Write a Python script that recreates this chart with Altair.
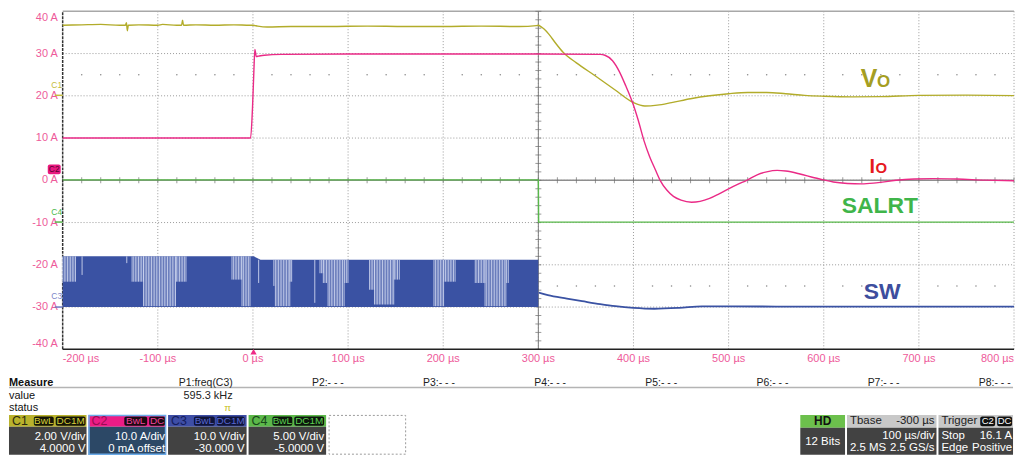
import altair as alt
import pandas as pd
import numpy as np

# ---------------- data (display units: A scale) ----------------
# C1  Vo
vo_t = [-200, -180, -160, -140, -134, -133, -132, -131, -120, -100, -95, -80, -75, -74, -73, -60, -40, -20, -3, 0,
        5, 15, 40, 80, 120, 160, 200, 240, 280, 298, 300, 303, 306, 311, 318, 326, 340, 360, 380, 400,
        412, 425, 440, 460, 480, 500, 520, 540, 560, 580, 600, 630, 660, 700, 750, 800]
vo_v = [36.7, 36.8, 36.9, 36.7, 36.7, 37.3, 35.4, 36.7, 36.8, 36.7, 36.9, 36.7, 36.7, 37.9, 36.7, 36.8, 36.7, 36.8, 36.7, 36.7,
        36.5, 36.3, 36.4, 36.4, 36.5, 36.4, 36.4, 36.5, 36.4, 36.6, 36.7, 36.3, 35.8, 34.6, 32.5, 30.3, 27.8, 24.7, 21.5, 18.4,
        17.6, 17.8, 18.4, 19.3, 20.0, 20.5, 20.8, 20.8, 20.5, 20.1, 19.9, 19.75, 19.8, 20.1, 20.15, 20.05]
# C2  Io
io_t = [-200, -2.5, -0.5, 1, 2, 3.5, 6, 12, 30, 100, 200, 300, 365, 370, 378, 385, 392, 399, 405, 411,
        417, 423, 428, 435, 442, 450, 461, 470, 480, 490, 500, 510, 519, 530, 540, 551, 560, 575, 590, 600,
        610, 625, 640, 655, 676, 695, 715, 740, 770, 800]
io_v = [10, 10, 17, 26, 31, 29.3, 29.4, 29.6, 29.8, 29.9, 29.9, 29.9, 29.8, 29.6, 28.3, 25.8, 22.3, 18.4, 14.2, 9.4,
        5.6, 2.5, 0, -2.3, -3.8, -4.7, -5.2, -5.0, -4.3, -3.2, -2.0, -0.9, 0, 1.3, 2.0, 2.35, 2.2, 1.5, 0.6, 0.1,
        -0.4, -0.75, -0.85, -0.6, 0, 0.3, 0.4, 0.3, 0.05, -0.1]
# C4  SALRT
alrt_t = [-200, 300, 300.3, 800]
alrt_v = [0.1, 0.1, -9.9, -9.9]
# C3  SW : switching band before 300 us, then a settling trace
band_t = [-200, 1, 8, 300]
band_top = [-18.0, -18.0, -18.8, -18.8]
band_bottom = -30.0
sw_t = [300.4, 310, 330, 346, 365, 381, 400, 422, 448, 472, 500, 600, 700, 800]
sw_v = [-26.6, -27.2, -28.0, -28.6, -29.3, -29.8, -30.2, -30.4, -30.2, -29.85, -29.85, -29.9, -29.9, -29.9]
# pulse-skipping clusters seen inside the SW band: start (us), end (us), lowest level (A)
skip_start = [-200, -179.6, -132.6, -127, -115, -80.5, -22, -11.5, 6, 22, 23.6, 39, 65, 70.5, 74, 79, 96.5,
              122.6, 127.8, 148.6, 153.8, 190.3, 200.7, 233.7, 244, 266.7]
skip_end = [-186, -179, -132, -115, -80.5, -70, -11.5, -2.4, 6.5, 23.6, 39, 42, 66, 74, 79, 96.5, 100,
            127.8, 148.6, 153, 154.5, 200.7, 212.8, 244, 266.7, 270]
skip_low = [-24, -22.4, -19.6, -24, -29.8, -24, -23.5, -29.8, -24.3, -25, -29.8, -24, -29, -22, -24.3, -29.8, -24.3,
            -25.9, -29.4, -23.5, -23.5, -29.8, -24, -24.3, -29.8, -24.3]
f_sw_khz = 595.3  # measured P1: freq(C3)

x_ticks = list(range(-200, 801, 100))
y_ticks = list(range(-40, 41, 10))

# ---------------- scales ----------------
FONT = "Liberation Sans"
PINK = "#ee5a9a"
W, H = 957, 340
XMIN, XMAX, YMIN, YMAX = -200, 800, -40, 40
xs = alt.Scale(domain=[XMIN, XMAX], nice=False, zero=False)
ys = alt.Scale(domain=[YMIN, YMAX], nice=False, zero=False)


def X(f="t"):
    return alt.X(f"{f}:Q", scale=xs, axis=None)


def Y(f="v"):
    return alt.Y(f"{f}:Q", scale=ys, axis=None)


# ---------------- graticule (grid, frame, tick labels) ----------------
grid_x = alt.Chart(pd.DataFrame({"t": x_ticks[1:-1], "a": YMIN, "b": YMAX})).mark_rule(
    color="#9a9a9a", strokeWidth=1, strokeDash=[1, 2]).encode(x=X(), y=Y("a"), y2="b:Q")
grid_y = alt.Chart(pd.DataFrame({"v": y_ticks[1:-1], "a": XMIN, "b": XMAX})).mark_rule(
    color="#9a9a9a", strokeWidth=1, strokeDash=[1, 2]).encode(y=Y(), x=X("a"), x2="b:Q")
top_border = alt.Chart(pd.DataFrame({"a": [XMIN], "b": [XMAX], "v": [YMAX]})).mark_rule(
    color="#a8a8a8", strokeWidth=1.5).encode(x=X("a"), x2="b:Q", y=Y())
right_grid = alt.Chart(pd.DataFrame({"t": [XMAX], "a": [YMIN], "b": [YMAX]})).mark_rule(
    color="#9a9a9a", strokeWidth=1, strokeDash=[1, 2]).encode(x=X(), y=Y("a"), y2="b:Q")
left_border = alt.Chart(pd.DataFrame({"t": [XMIN], "a": [YMIN], "b": [YMAX]})).mark_rule(
    color="#333333", strokeWidth=1.5, strokeDash=[3, 1]).encode(x=X(), y=Y("a"), y2="b:Q")
bottom_border = alt.Chart(pd.DataFrame({"a": [XMIN], "b": [XMAX], "v": [YMIN]})).mark_rule(
    color="#222222", strokeWidth=1.5).encode(x=X("a"), x2="b:Q", y=Y())

center_v = alt.Chart(pd.DataFrame({"t": [300], "a": [YMIN], "b": [YMAX]})).mark_rule(
    color="#7c7c7c", strokeWidth=1).encode(x=X(), y=Y("a"), y2="b:Q")
center_h = alt.Chart(pd.DataFrame({"a": [XMIN], "b": [XMAX], "v": [0]})).mark_rule(
    color="#8e8e8e", strokeWidth=1.5).encode(x=X("a"), x2="b:Q", y=Y())

minor_x = pd.DataFrame({"t": np.arange(-200, 801, 20), "v": 0})
minor_y = pd.DataFrame({"t": 300, "v": np.arange(-40, 41, 2)})
tick_x = alt.Chart(minor_x).mark_tick(orient="vertical", size=6, thickness=1, color="#6e6e6e").encode(x=X(), y=Y())
tick_y = alt.Chart(minor_y).mark_tick(orient="horizontal", size=6, thickness=1, color="#6e6e6e").encode(x=X(), y=Y())
dot_t = [t for t in range(-200, 801, 20) if t % 100 != 0]
dots = alt.Chart(pd.DataFrame({"t": dot_t * 2, "v": [25] * len(dot_t) + [-25] * len(dot_t)})).mark_circle(
    size=2.5, color="#8a8a8a", opacity=1).encode(x=X(), y=Y())

# tick labels (first / last flush with the frame edges, like the scope)
xl = pd.DataFrame({"t": x_ticks, "v": YMIN, "s": [f"{v} µs" for v in x_ticks]})
ylab = pd.DataFrame({"t": XMIN, "v": y_ticks, "s": [f"{v} A" for v in y_ticks]})


def tick_text(df, align, baseline, dx=0, dy=0):
    return alt.Chart(df).mark_text(font=FONT, fontSize=11, color=PINK, align=align, baseline=baseline,
                                   dx=dx, dy=dy).encode(x=X(), y=Y(), text="s:N")


x_labels = [
    tick_text(xl.iloc[[0]], "left", "top", dy=4),
    tick_text(xl.iloc[1:-1], "center", "top", dy=4),
    tick_text(xl.iloc[[-1]], "right", "top", dy=4),
]
y_labels = [
    tick_text(ylab.iloc[[0]], "right", "bottom", dx=-5),
    tick_text(ylab.iloc[1:-1], "right", "middle", dx=-5),
    tick_text(ylab.iloc[[-1]], "right", "top", dx=-5, dy=1),
]

# ---------------- traces ----------------
SW_BLUE = "#3a52a3"
band = alt.Chart(pd.DataFrame({"t": band_t, "top": band_top, "bot": band_bottom})).mark_area(
    color=SW_BLUE, interpolate="linear", opacity=1).encode(x=X(), y=Y("top"), y2="bot:Q")
period = 1000.0 / f_sw_khz
rows = []
for s, e, lo in zip(skip_start, skip_end, skip_low):
    for t in np.arange(s, e + 1e-9, period):
        rows.append({"t": t, "top": -18.0 if t < 4 else -18.8, "lo": lo})
stripes = alt.Chart(pd.DataFrame(rows)).mark_rule(color="#cdd4ee", strokeWidth=0.9).encode(
    x=X(), y=Y("top"), y2="lo:Q")
sw_line = alt.Chart(pd.DataFrame({"t": sw_t, "v": sw_v})).mark_line(
    color=SW_BLUE, strokeWidth=1.8, interpolate="monotone").encode(x=X(), y=Y())

alrt_line = alt.Chart(pd.DataFrame({"t": alrt_t, "v": alrt_v})).mark_line(
    color="#58b84a", strokeWidth=1.4).encode(x=X(), y=Y())
vo_line = alt.Chart(pd.DataFrame({"t": vo_t, "v": vo_v})).mark_line(
    color="#b2ac2a", strokeWidth=1.4, interpolate="monotone").encode(x=X(), y=Y())
io_line = alt.Chart(pd.DataFrame({"t": io_t, "v": io_v})).mark_line(
    color="#ea2a86", strokeWidth=1.4, interpolate="monotone").encode(x=X(), y=Y())


def label(text, t, v, color, size, weight="bold"):
    return alt.Chart(pd.DataFrame({"t": [t], "v": [v], "s": [text]})).mark_text(
        font=FONT, fontSize=size, fontWeight=weight, color=color, align="center", baseline="alphabetic").encode(
        x=X(), y=Y(), text="s:N")


labels = [
    label("V", 647.6, 22.0, "#a59e22", 25),
    label("O", 662.8, 22.0, "#a59e22", 17),
    label("I", 651.0, 1.7, "#e6191f", 20),
    label("O", 660.4, 1.7, "#e6191f", 15),
    label("SALRT", 658.9, -7.85, "#3fb54a", 23),
    label("SW", 661.5, -28.2, "#3d4e9e", 23),
]

# ---------------- instrument panel (screen layout in page pixels, mapped through the same scales) ----------------
OX, OY = 62, 10
KX = (XMAX - XMIN) / W
KY = (YMAX - YMIN) / H
RMAX = 1018


def P(df):
    df = pd.DataFrame(df)
    for c in ("x", "x2"):
        if c in df:
            df[c] = XMIN + (df[c] - OX) * KX
    for c in ("y", "y2"):
        if c in df:
            df[c] = YMAX - (df[c] - OY) * KY
    return df


R1, SEP, R2, R3 = 383.5, 388.5, 397.0, 409.5
HT, HB, BB = 416.0, 428.0, 456.0
HM = (HT + HB) / 2
L1, L2 = 438.0, 450.0
RHB = 429.0
RL1, RL2 = 437.0, 449.5
RHM = (HT + RHB) / 2

boxes = P([
    dict(x=8, x2=86, y=HT, y2=HB, c="#b9b22c"), dict(x=8, x2=86, y=HB, y2=BB, c="#424242"),
    dict(x=88, x2=166, y=HT, y2=HB, c="#ec1c86"), dict(x=88, x2=166, y=HB, y2=BB, c="#2c4866"),
    dict(x=168, x2=247, y=HT, y2=HB, c="#3e4ea6"), dict(x=168, x2=247, y=HB, y2=BB, c="#424242"),
    dict(x=249, x2=327, y=HT, y2=HB, c="#5cb84a"), dict(x=249, x2=327, y=HB, y2=BB, c="#424242"),
    dict(x=804, x2=849, y=HT, y2=RHB, c="#6cc04c"), dict(x=804, x2=849, y=RHB, y2=BB, c="#424242"),
    dict(x=851, x2=941, y=HT, y2=RHB, c="#c8c8c8"), dict(x=851, x2=941, y=RHB, y2=BB, c="#424242"),
    dict(x=943, x2=RMAX, y=HT, y2=RHB, c="#c8c8c8"), dict(x=943, x2=RMAX, y=RHB, y2=BB, c="#424242"),
])
bt, bb = HT + 1.5, HB - 1.2
badges = P([
    dict(x=33, x2=53, y=bt, y2=bb, c="#161606"), dict(x=55, x2=85, y=bt, y2=bb, c="#161606"),
    dict(x=124, x2=147, y=bt, y2=bb, c="#1a0a12"), dict(x=149, x2=165, y=bt, y2=bb, c="#1a0a12"),
    dict(x=194, x2=215, y=bt, y2=bb, c="#10143a"), dict(x=217, x2=245, y=bt, y2=bb, c="#10143a"),
    dict(x=273, x2=293, y=bt, y2=bb, c="#0c160c"), dict(x=295, x2=325, y=bt, y2=bb, c="#0c160c"),
    dict(x=985, x2=1000, y=bt, y2=RHB - 1.5, c="#111111"), dict(x=1002, x2=1017, y=bt, y2=RHB - 1.5, c="#111111"),
    dict(x=47, x2=60, y=164, y2=174, c="#e8187f"),
])
rules = P([
    dict(x=8, x2=RMAX, y=SEP, c="#b4b4b4"),
    dict(x=54, x2=62, y=94.5, c="#c4bc3c"),
    dict(x=54, x2=62, y=222, c="#58b84a"),
    dict(x=54, x2=62, y=307.5, c="#6c78c0"),
])
sel_border = P([dict(x=88.5, x2=165.5, y=HT + 0.5, y2=BB - 0.5)])
dash_box = P([dict(x=330, x2=407, y=HT + 0.5, y2=BB - 0.5)])

txt_left = P([
    dict(s="value", x=8, y=R2, c="#111111", z=11), dict(s="status", x=8, y=R3, c="#111111", z=11),
    dict(s="C1", x=11, y=HM, c="#2a2a10", z=12.5), dict(s="C2", x=91, y=HM, c="#9a0c52", z=12.5),
    dict(s="C3", x=171, y=HM, c="#141c5c", z=12.5), dict(s="C4", x=252, y=HM, c="#17461a", z=12.5),
    dict(s="Tbase", x=854, y=RHM, c="#222222", z=11.5), dict(s="Trigger", x=946, y=RHM, c="#222222", z=11.5),
    dict(s="2.5 MS", x=854, y=RL2, c="#ffffff", z=11.5), dict(s="Stop", x=946, y=RL1, c="#ffffff", z=11.5),
    dict(s="Edge", x=946, y=RL2, c="#ffffff", z=11.5),
])
txt_left_b = P([dict(s="Measure", x=8, y=R1, c="#111111", z=11)])
pcols = ["P1:freq(C3)"] + [f"P{i}:- - -" for i in range(2, 9)]
txt_right = P(
    [dict(s=s, x=233 + 111.8 * i, y=R1, c="#222222", z=10.5) for i, s in enumerate(pcols)] + [
        dict(s="595.3 kHz", x=233, y=R2, c="#222222", z=11),
        dict(s="2.00 V/div", x=85, y=L1, c="#ffffff", z=11.5), dict(s="4.0000 V", x=85, y=L2, c="#ffffff", z=11.5),
        dict(s="10.0 A/div", x=165, y=L1, c="#ffffff", z=11.5), dict(s="0 mA offset", x=165, y=L2, c="#ffffff", z=11.5),
        dict(s="10.0 V/div", x=245, y=L1, c="#ffffff", z=11.5), dict(s="-30.000 V", x=245, y=L2, c="#ffffff", z=11.5),
        dict(s="5.00 V/div", x=325, y=L1, c="#ffffff", z=11.5), dict(s="-5.0000 V", x=325, y=L2, c="#ffffff", z=11.5),
        dict(s="-300 µs", x=939, y=RHM, c="#222222", z=11.5), dict(s="100 µs/div", x=939, y=RL1, c="#ffffff", z=11.5),
        dict(s="2.5 GS/s", x=939, y=RL2, c="#ffffff", z=11.5), dict(s="16.1 A", x=1017, y=RL1, c="#ffffff", z=11.5),
        dict(s="Positive", x=1017, y=RL2, c="#ffffff", z=11.5),
    ])
txt_center = P([
    dict(s="BwL", x=43, y=HM, c="#d6cf3a", z=10), dict(s="DC1M", x=70, y=HM, c="#d6cf3a", z=10),
    dict(s="BwL", x=135.5, y=HM, c="#f0449c", z=10), dict(s="DC", x=157, y=HM, c="#f0449c", z=10),
    dict(s="BwL", x=204.5, y=HM, c="#5868d0", z=10), dict(s="DC1M", x=231, y=HM, c="#5868d0", z=10),
    dict(s="BwL", x=283, y=HM, c="#5cd052", z=10), dict(s="DC1M", x=310, y=HM, c="#5cd052", z=10),
    dict(s="12 Bits", x=826.5, y=443, c="#ffffff", z=11.5),
    dict(s="C2", x=992.5, y=RHM, c="#ffffff", z=9.5), dict(s="DC", x=1009.5, y=RHM, c="#ffffff", z=9.5),
    dict(s="C1", x=56, y=84.5, c="#c4bc3c", z=8.5), dict(s="C2", x=53.5, y=169, c="#5a0030", z=8.5),
    dict(s="C4", x=56, y=211.5, c="#4cb848", z=8.5), dict(s="C3", x=56, y=296, c="#7c86c8", z=8.5),
    dict(s="π", x=228, y=R3, c="#c8c020", z=10),
])
txt_center_b = P([dict(s="HD", x=826.5, y=RHM, c="#111111", z=12)])
trig = P([dict(x=254, y=352.5)])


def rect_layer(df, **kw):
    return alt.Chart(df).mark_rect(**kw).encode(x=X("x"), x2="x2:Q", y=Y("y"), y2="y2:Q",
                                                 color=alt.Color("c:N", scale=None))


def text_layer(df, align, weight="normal"):
    return alt.Chart(df).mark_text(align=align, baseline="middle", font=FONT, fontWeight=weight).encode(
        x=X("x"), y=Y("y"), text="s:N", color=alt.Color("c:N", scale=None), size=alt.Size("z:Q", scale=None))


panel = [
    rect_layer(boxes),
    rect_layer(badges, cornerRadius=2),
    alt.Chart(rules).mark_rule(strokeWidth=1.5).encode(x=X("x"), x2="x2:Q", y=Y("y"),
                                                        color=alt.Color("c:N", scale=None)),
    alt.Chart(sel_border).mark_rect(fillOpacity=0, stroke="#6aaae8", strokeWidth=1.5).encode(
        x=X("x"), x2="x2:Q", y=Y("y"), y2="y2:Q"),
    alt.Chart(dash_box).mark_rect(fillOpacity=0, stroke="#9a9a9a", strokeWidth=1, strokeDash=[2, 2]).encode(
        x=X("x"), x2="x2:Q", y=Y("y"), y2="y2:Q"),
    alt.Chart(trig).mark_point(shape="triangle-up", size=40, filled=True, color="#ee2a86", opacity=1).encode(
        x=X("x"), y=Y("y")),
    text_layer(txt_left, "left"),
    text_layer(txt_left_b, "left", "bold"),
    text_layer(txt_right, "right"),
    text_layer(txt_center, "center"),
    text_layer(txt_center_b, "center", "bold"),
]

chart = alt.layer(
    grid_x, grid_y, right_grid, top_border, center_v, center_h, tick_x, tick_y, dots,
    left_border, bottom_border, *x_labels, *y_labels,
    band, stripes, sw_line, alrt_line, vo_line, io_line, *labels, *panel
).properties(
    width=W, height=H, padding={"left": 0, "top": 1, "right": 0, "bottom": 0}, background="white"
).configure_view(strokeWidth=0)

chart.save("out.html", embed_options={"renderer": "svg", "actions": False})
